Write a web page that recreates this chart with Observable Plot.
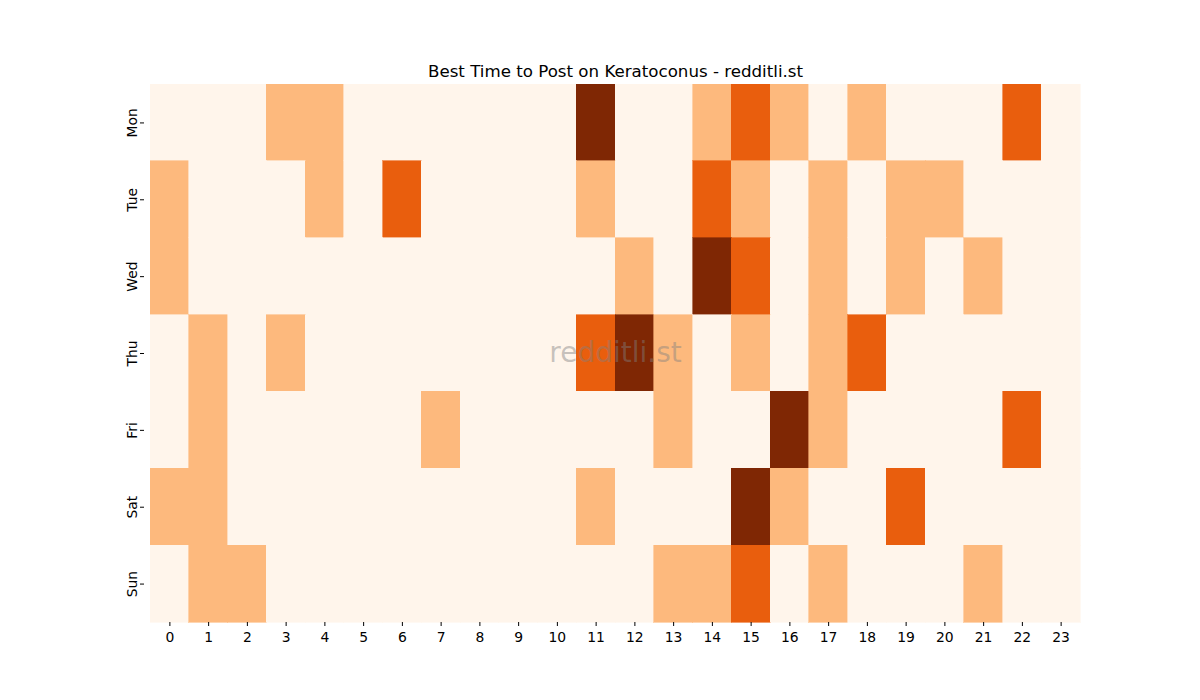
<!DOCTYPE html>
<html>
<head>
<meta charset="utf-8">
<script src="https://cdn.jsdelivr.net/npm/d3@7"></script>
<script src="https://cdn.jsdelivr.net/npm/@observablehq/plot@0.6"></script>
<style>
  html, body { margin: 0; padding: 0; background: #fff; }
  #chart svg { display: block; font-family: "DejaVu Sans", sans-serif; }
</style>
</head>
<body>
<div id="chart"></div>
<script>
const days = ["Mon", "Tue", "Wed", "Thu", "Fri", "Sat", "Sun"];
const hours = d3.range(24);
const mon = [0,0,0,1,1,0,0,0,0,0,0,3,0,0,1,2,1,0,1,0,0,0,2,0];
const tue = [1,0,0,0,1,0,2,0,0,0,0,1,0,0,2,1,0,1,0,1,1,0,0,0];
const wed = [1,0,0,0,0,0,0,0,0,0,0,0,1,0,3,2,0,1,0,1,0,1,0,0];
const thu = [0,1,0,1,0,0,0,0,0,0,0,2,3,1,0,1,0,1,2,0,0,0,0,0];
const fri = [0,1,0,0,0,0,0,1,0,0,0,0,0,1,0,0,3,1,0,0,0,0,2,0];
const sat = [1,1,0,0,0,0,0,0,0,0,0,1,0,0,0,3,1,0,0,2,0,0,0,0];
const sun = [0,1,1,0,0,0,0,0,0,0,0,0,0,1,1,2,0,1,0,0,0,1,0,0];
const values = [mon, tue, wed, thu, fri, sat, sun];
const levels = [0, 1, 2, 3];
const palette = ["#fff5eb", "#fdb97d", "#e95e0d", "#7f2704"];
const title = "Best Time to Post on Keratoconus - redditli.st";
const watermark = "redditli.st";

const data = [];
days.forEach((d, i) => hours.forEach((h, j) => data.push({day: d, hour: h, value: values[i][j]})));

const plot = Plot.plot({
  width: 1200,
  height: 700,
  marginTop: 84,
  marginBottom: 78,
  marginLeft: 150,
  marginRight: 120,
  style: {fontFamily: "DejaVu Sans, sans-serif", fontSize: "13.9px", color: "#000"},
  x: {type: "band", domain: hours, padding: 0, round: false, label: null},
  y: {type: "band", domain: days, padding: 0, round: false, label: null},
  color: {type: "ordinal", domain: levels, range: palette},
  marks: [
    Plot.cell(data, {x: "hour", y: "day", fill: "value", stroke: "value", strokeWidth: 0.6, inset: 0, shapeRendering: "crispEdges"}),
    Plot.axisX({tickSize: 4, tickPadding: 6, fontSize: 13.9, stroke: "#000"}),
    Plot.axisY({tickSize: 4, tickPadding: 4, tickRotate: -90, fontSize: 13.9, textAnchor: "middle", dx: -6}),
    Plot.text([watermark], {frameAnchor: "middle", text: d => d, fontSize: 28, fill: "#808080", fillOpacity: 0.45}),
    Plot.text([title], {frameAnchor: "top", text: d => d, fontSize: 16.67, fill: "#000", dy: -8, lineAnchor: "bottom"})
  ]
});
document.getElementById("chart").appendChild(plot);
</script>
</body>
</html>
